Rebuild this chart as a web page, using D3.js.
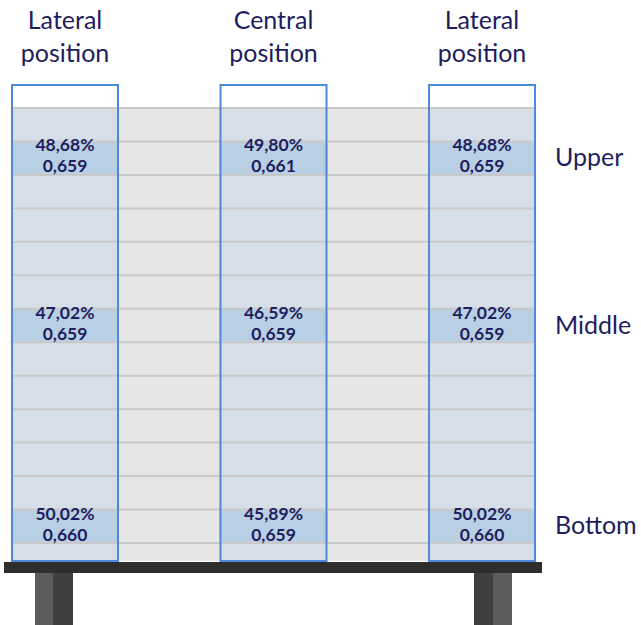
<!DOCTYPE html>
<html><head><meta charset="utf-8">
<script src="https://cdn.jsdelivr.net/npm/d3@7"></script>
<style>body{margin:0;background:#fff}svg{display:block}</style>
</head><body>
<script>
const positions = ["Lateral position", "Central position", "Lateral position"];
const levels = ["Upper", "Middle", "Bottom"];
const levelLayer = [1, 6, 12];          // index of the highlighted layer for each level
const layerCount = 13;
const percentUpper = ["48,68%", "49,80%", "48,68%"];
const percentMiddle = ["47,02%", "46,59%", "47,02%"];
const percentBottom = ["50,02%", "45,89%", "50,02%"];
const densityUpper = ["0,659", "0,661", "0,659"];
const densityMiddle = ["0,659", "0,659", "0,659"];
const densityBottom = ["0,660", "0,659", "0,660"];

const percents = [percentUpper, percentMiddle, percentBottom];
const densities = [densityUpper, densityMiddle, densityBottom];

const W = 641, H = 625;
const navy = "#1e1d5e";
const font = "Lato, 'Open Sans', sans-serif";

const svg = d3.select("body").append("svg").attr("width", W).attr("height", H);

const x = d3.scaleBand().domain(d3.range(positions.length)).range([11, 536]).paddingInner(0.482).paddingOuter(0);
const y = d3.scaleLinear().domain([0, layerCount]).range([108, 543]);
const boxTop = 84, stackBottom = 561;

// gray stack background
svg.append("rect").attr("x", x(0)).attr("y", y(0)).attr("width", x(2) + x.bandwidth() - x(0))
  .attr("height", stackBottom - y(0)).attr("fill", "#e6e6e6");

// boxes fill
const g = svg.append("g");
positions.forEach((p, i) => {
  g.append("rect").attr("x", x(i)).attr("y", boxTop).attr("width", x.bandwidth()).attr("height", y(0) - boxTop).attr("fill", "#fff");
  g.append("rect").attr("x", x(i)).attr("y", y(0)).attr("width", x.bandwidth()).attr("height", stackBottom - y(0)).attr("fill", "#d6dee7");
  levelLayer.forEach((L) => {
    g.append("rect").attr("x", x(i)).attr("y", y(L)).attr("width", x.bandwidth()).attr("height", y(L + 1) - y(L)).attr("fill", "#b9d0e4");
  });
});

// layer lines
svg.append("g").selectAll("line").data(d3.range(layerCount + 1)).join("line")
  .attr("x1", x(0)).attr("x2", x(2) + x.bandwidth())
  .attr("y1", d => y(d)).attr("y2", d => y(d))
  .attr("stroke", "#c9c9c9").attr("stroke-width", 2);

// box outlines
svg.append("g").selectAll("rect").data(d3.range(positions.length)).join("rect")
  .attr("x", d => x(d) + 1).attr("y", boxTop + 1).attr("width", x.bandwidth() - 2).attr("height", stackBottom - boxTop - 1)
  .attr("fill", "none").attr("stroke", "#4d88d9").attr("stroke-width", 2);

// cell labels
levels.forEach((lv, li) => {
  positions.forEach((p, i) => {
    const cx = x(i) + x.bandwidth() / 2;
    const yT = y(levelLayer[li]);
    svg.append("text").attr("x", cx).attr("y", yT + 10).attr("text-anchor", "middle")
      .attr("font-family", font).attr("font-weight", "bold").attr("font-size", 17.5).attr("fill", navy)
      .text(percents[li][i]);
    svg.append("text").attr("x", cx).attr("y", yT + 31).attr("text-anchor", "middle")
      .attr("font-family", font).attr("font-weight", "bold").attr("font-size", 17.5).attr("fill", navy)
      .text(densities[li][i]);
  });
  svg.append("text").attr("x", 555).attr("y", (y(levelLayer[li]) + y(levelLayer[li] + 1)) / 2 + 8)
    .attr("font-family", font).attr("font-size", 25).attr("fill", navy).text(lv);
});

// headers
positions.forEach((p, i) => {
  const words = p.split(" ");
  const t = svg.append("text").attr("x", x(i) + x.bandwidth() / 2).attr("text-anchor", "middle")
    .attr("font-family", font).attr("font-size", 25).attr("fill", navy);
  words.forEach((w, k) => t.append("tspan").attr("x", x(i) + x.bandwidth() / 2).attr("y", 29 + k * 33).text(w));
});

// shelf
svg.append("rect").attr("x", 4).attr("y", 562).attr("width", 538).attr("height", 11).attr("fill", "#2e2e2e");
// legs
[[35, 53, 73, "#5c5c5c", "#3f3f3f"], [474, 493, 512, "#3f3f3f", "#5c5c5c"]].forEach(([a, m, b, c1, c2]) => {
  svg.append("rect").attr("x", a).attr("y", 573).attr("width", m - a).attr("height", H - 573).attr("fill", c1);
  svg.append("rect").attr("x", m).attr("y", 573).attr("width", b - m).attr("height", H - 573).attr("fill", c2);
});
</script>
</body></html>
